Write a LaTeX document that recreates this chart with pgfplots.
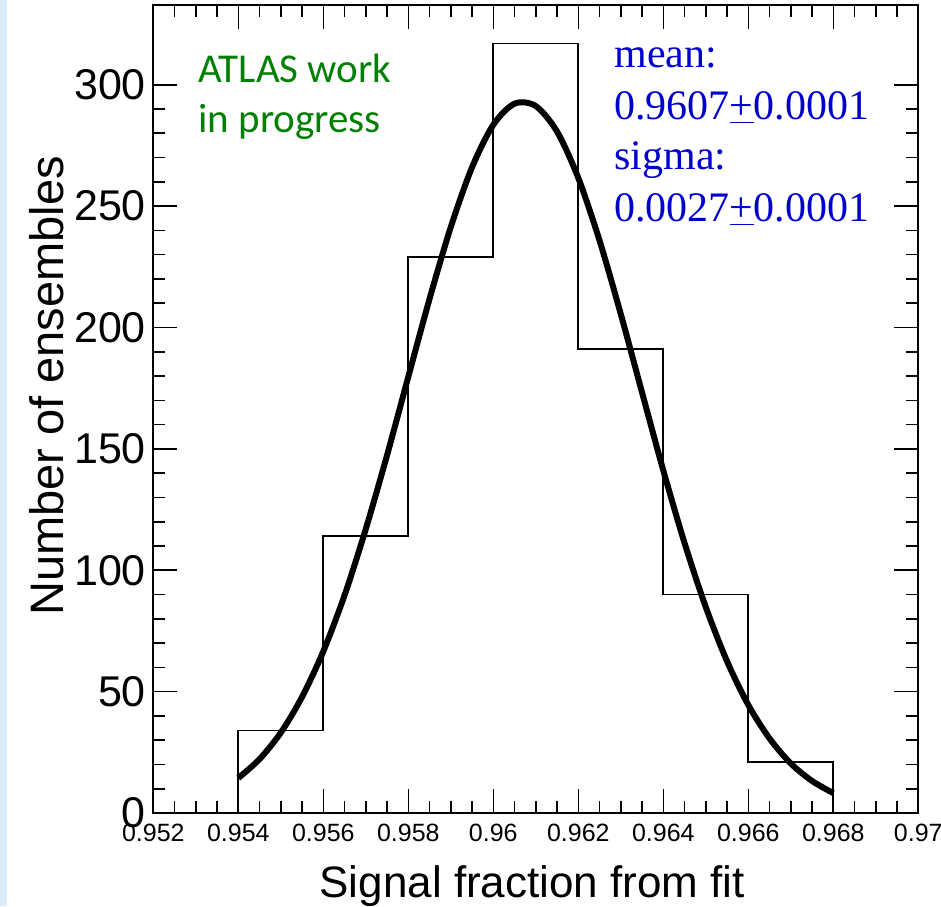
\documentclass[border=0pt]{standalone}
\usepackage{pgfplots}
\pgfplotsset{compat=1.18}
\usepackage{fontspec}
\setmainfont{Liberation Sans}
\newfontfamily\calibrifont{Carlito}
\newfontfamily\seriffont{Liberation Serif}
\definecolor{atlasgreen}{RGB}{0,128,0}
\definecolor{statblue}{RGB}{0,0,204}
\definecolor{slideblue}{RGB}{218,234,248}
\begin{document}
\begin{tikzpicture}
\useasboundingbox (-76.65pt,-46.5pt) rectangle (393.85pt,406.5pt);
\fill[slideblue] (-76.65pt,-46.5pt) rectangle (-72.9pt,406.5pt);
\begin{axis}[
  at={(0pt,0pt)}, anchor=south west,
  scale only axis, width=382.5pt, height=404pt,
  xmin=0.952, xmax=0.970, ymin=0, ymax=332.85,
  xtick={0.952,0.954,0.956,0.958,0.960,0.962,0.964,0.966,0.968,0.970},
  xticklabels={0.952,0.954,0.956,0.958,0.96,0.962,0.964,0.966,0.968,0.97},
  ytick={0,50,100,150,200,250,300},
  minor x tick num=3, minor y tick num=4,
  tick align=inside, tick pos=both,
  xticklabel pos=left, yticklabel pos=left,
  major tick length=12pt, minor tick length=6pt,
  every tick/.style={black, line width=0.8pt},
  axis line style={line width=1pt},
  xticklabel style={font=\fontsize{12.5}{15}\selectfont, inner sep=0pt, yshift=-5.5pt},
  yticklabel style={font=\fontsize{21.5}{25}\selectfont, inner sep=0pt, xshift=-3.5pt},
  /pgf/number format/assume math mode=true,
  scaled x ticks=false, scaled y ticks=false,
  clip=false,
]
\addplot[const plot, black, line width=0.9pt] coordinates {
  (0.954,0) (0.954,34) (0.956,114) (0.958,229) (0.960,317)
  (0.962,191) (0.964,90) (0.966,21) (0.968,0) (0.970,0)
};
\addplot[black, line width=3pt, smooth] coordinates {
  (0.9540,14.4) (0.9545,22.2) (0.9550,33.1) (0.9555,47.8) (0.9560,66.6)
  (0.9565,89.7) (0.9570,117.0) (0.9575,147.4) (0.9580,179.7) (0.9585,211.8)
  (0.9590,241.4) (0.9595,266.0) (0.9600,283.5) (0.9605,292.2)
  (0.9610,291.2) (0.9615,280.7) (0.9620,261.6) (0.9625,235.8) (0.9630,205.5)
  (0.9635,173.2) (0.9640,141.1) (0.9645,111.2) (0.9650,84.8) (0.9655,62.5)
  (0.9660,44.5) (0.9665,30.7) (0.9670,20.4) (0.9675,13.2) (0.9680,8.2)
};
\end{axis}
% labels
\node[rotate=90, anchor=base, inner sep=0pt, font=\fontsize{23.5}{28}\selectfont] at (-45pt,213.5pt) {Number of ensembles};
\node[anchor=base, inner sep=0pt, font=\fontsize{22}{26}\selectfont] at (189.5pt,-42pt) {Signal fraction from fit};
% ATLAS text
\node[anchor=base west, inner sep=0pt, text=atlasgreen, font=\calibrifont\fontsize{20.5}{25}\selectfont] at (22.35pt,365pt) {ATLAS work};
\node[anchor=base west, inner sep=0pt, text=atlasgreen, font=\calibrifont\fontsize{20.5}{25}\selectfont] at (22.35pt,340pt) {in progress};
% fit results
\node[anchor=base west, inner sep=0pt, text=statblue, font=\seriffont\fontsize{21}{25}\selectfont] at (230.35pt,372.5pt) {mean:};
\node[anchor=base west, inner sep=0pt, text=statblue, font=\seriffont\fontsize{21}{25}\selectfont] at (230.35pt,346.5pt) {0.9607\underline{+}0.0001};
\node[anchor=base west, inner sep=0pt, text=statblue, font=\seriffont\fontsize{21}{25}\selectfont] at (230.35pt,321.5pt) {sigma:};
\node[anchor=base west, inner sep=0pt, text=statblue, font=\seriffont\fontsize{21}{25}\selectfont] at (230.35pt,295.5pt) {0.0027\underline{+}0.0001};
\end{tikzpicture}
\end{document}
